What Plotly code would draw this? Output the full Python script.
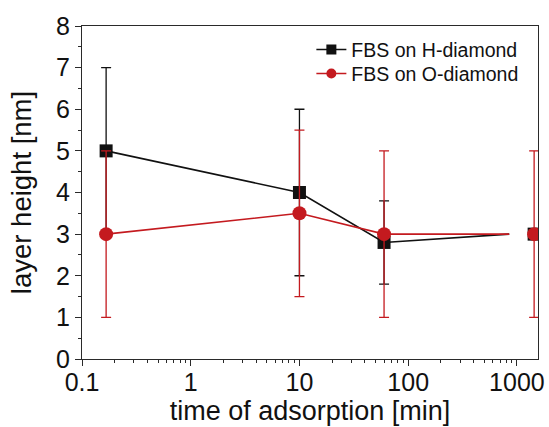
import plotly.graph_objects as go

# Data
time_min = [1/6, 10, 60, 1440]          # time of adsorption [min]
h_height = [5.0, 4.0, 2.8, 3.0]         # FBS on H-diamond [nm]
h_err = [2.0, 2.0, 1.0, 0.0]
o_height = [3.0, 3.5, 3.0, 3.0]         # FBS on O-diamond [nm]
o_err = [2.0, 2.0, 2.0, 2.0]
line_end_time = 850                     # connecting lines stop here

x_major = [0.1, 1, 10, 100, 1000]
x_labels = ["0.1", "1", "10", "100", "1000"]
x_minor = [m * d for d in x_major for m in range(2, 10) if m * d < 1600]

BLACK = "#111111"
RED = "#c41a1f"
AX = "#2a2a2a"
FONT = "Liberation Sans, Arial, sans-serif"

fig = go.Figure()

series = [
    ("FBS on H-diamond", h_height, h_err, BLACK, "square", 13, "legend"),
    ("FBS on O-diamond", o_height, o_err, RED, "circle", 14, "legend2"),
]

for name, ys, errs, color, symbol, msize, leg in series:
    fig.add_trace(go.Scatter(
        x=time_min[:3] + [line_end_time], y=ys[:3] + [ys[3]],
        mode="lines", line=dict(color=color, width=1.6),
        showlegend=False, hoverinfo="skip"))
    fig.add_trace(go.Scatter(
        x=time_min, y=ys, mode="markers",
        marker=dict(color=color, symbol=symbol, size=msize, line=dict(width=0)),
        error_y=dict(type="data", array=errs, visible=True, color=color,
                     thickness=1.3, width=5),
        showlegend=False))
    fig.add_trace(go.Scatter(
        x=[None], y=[None], mode="lines+markers", name=name, legend=leg,
        line=dict(color=color, width=1.6),
        marker=dict(color=color, symbol=symbol, size=10)))

leg_common = dict(xanchor="left", yanchor="top", bgcolor="rgba(0,0,0,0)",
                  font=dict(size=19.5, family=FONT))

fig.update_layout(
    width=549, height=427,
    margin=dict(l=82, r=11, t=26, b=68, autoexpand=False),
    paper_bgcolor="white", plot_bgcolor="white",
    font=dict(family=FONT, color="#111111"),
    legend=dict(x=0.503, y=0.987, **leg_common),
    legend2=dict(x=0.503, y=0.915, **leg_common),
)

fig.update_xaxes(
    type="log", range=[-1, 3.194], automargin=False,
    tickvals=x_major, ticktext=x_labels,
    ticks="outside", ticklen=6, tickwidth=1.2, tickcolor=AX,
    ticklabelstandoff=-5,
    minor=dict(tickmode="array", tickvals=x_minor, ticks="outside", ticklen=3,
               tickwidth=1, tickcolor=AX, showgrid=False),
    showline=True, linecolor=AX, linewidth=1.3, mirror=True,
    showgrid=False, zeroline=False,
    tickfont=dict(size=25, family=FONT),
    title=dict(text="time of adsorption [min]", font=dict(size=27, family=FONT), standoff=2),
)
fig.update_yaxes(
    range=[0, 8], dtick=1, automargin=False,
    ticks="outside", ticklen=6, tickwidth=1.2, tickcolor=AX,
    minor=dict(ticks="outside", ticklen=3, tickwidth=1, dtick=0.5, tickcolor=AX, showgrid=False),
    showline=True, linecolor=AX, linewidth=1.3, mirror=True,
    showgrid=False, zeroline=False,
    tickfont=dict(size=25, family=FONT),
    title=dict(text="layer height [nm]", font=dict(size=27.5, family=FONT), standoff=16),
)

fig.write_html(
    "out.html",
    config={"displayModeBar": False},
    post_script="document.body.style.margin='0';document.body.style.overflow='hidden';",
)
